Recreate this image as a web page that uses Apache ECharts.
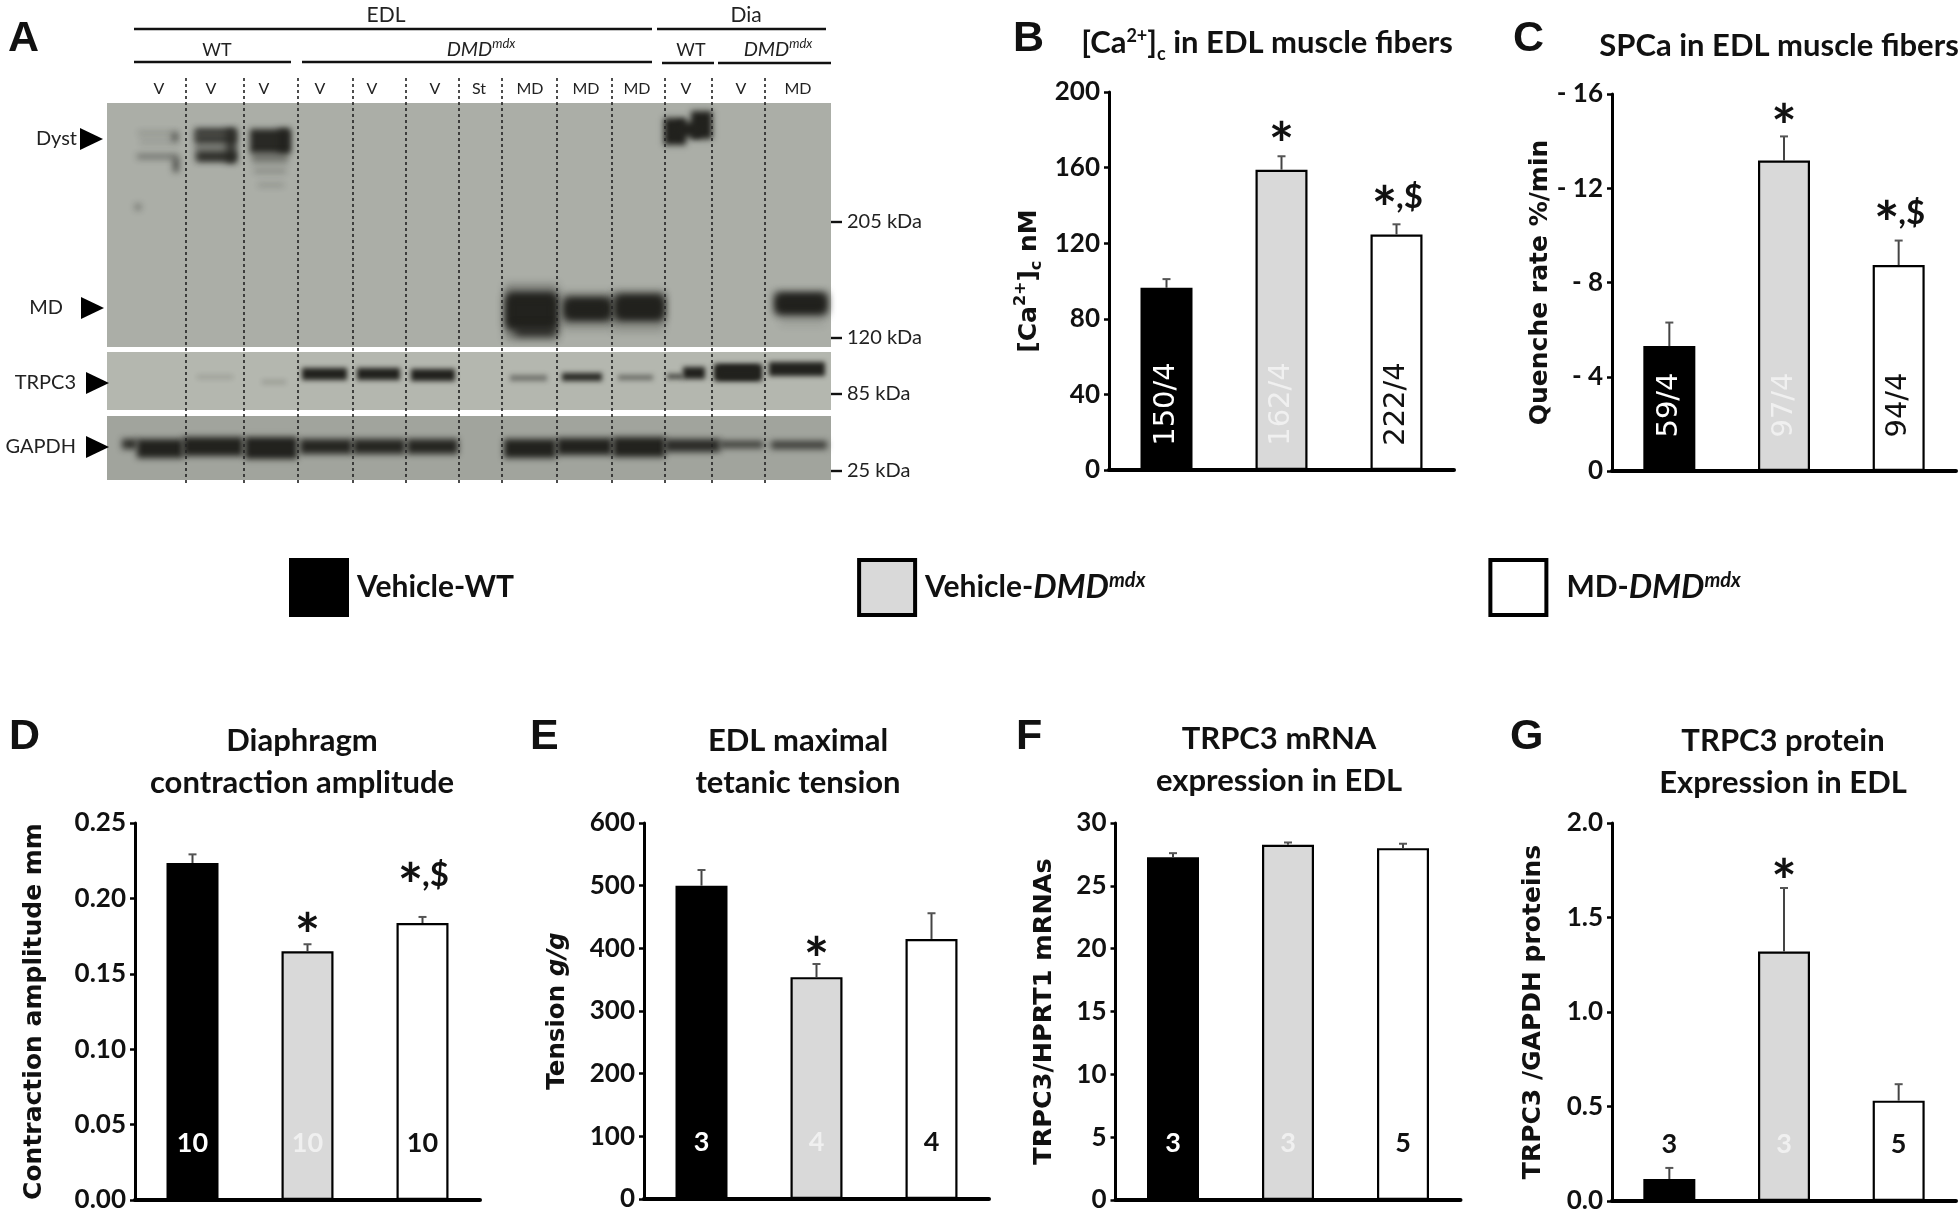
<!DOCTYPE html>
<html><head><meta charset="utf-8">
<style>html,body{margin:0;padding:0;background:#fff}#c{width:1960px;height:1214px}</style>
<script src="https://cdn.jsdelivr.net/npm/echarts@6/dist/echarts.min.js"></script>
</head><body><div id="c"></div>
<script>
// ---------- bar panel data ----------
const groupNames = ['Vehicle-WT', 'Vehicle-DMDmdx', 'MD-DMDmdx'];
const bValues = [96.4, 158.9, 124.6];
const bErrTops = [101, 166, 130];
const bCounts = ['150/4', '162/4', '222/4'];
const bMarks = ['', '*', '*,$'];
const bMarkY = [null, 178, 144];
const cValues = [-5.3, -13.18, -8.74];
const cErrTops = [-6.3, -14.2, -9.78];
const cCounts = ['59/4', '97/4', '94/4'];
const cMarks = ['', '*', '*,$'];
const cMarkY = [null, -15.1, -10.95];
const dValues = [0.2235, 0.165, 0.1837];
const dErrTops = [0.2292, 0.1696, 0.1877];
const dCounts = ['10', '10', '10'];
const dMarks = ['', '*', '*,$'];
const dMarkY = [null, 0.1824, 0.2155];
const eValues = [500, 354, 415];
const eErrTops = [525, 375, 456];
const eCounts = ['3', '4', '4'];
const eMarks = ['', '*', ''];
const eMarkY = [null, 400, null];
const fValues = [27.27, 28.27, 28.0];
const fErrTops = [27.6, 28.45, 28.35];
const fCounts = ['3', '3', '5'];
const gValues = [0.1165, 1.32, 0.531];
const gErrTops = [0.175, 1.656, 0.618];
const gCounts = ['3', '3', '5'];
const gMarks = ['', '*', ''];
const gMarkY = [null, 1.75, null];

// ---------- western blot data (gel units; [from, to, top, bottom, density]) ----------
const blotPanels = [[107, 831, 103, 347, '#abaea7'], [107, 831, 352, 410, '#b4b7af'], [107, 831, 416, 480, '#a1a49d']];
const dystBands = [
  [138, 178, 131, 135, .2], [140, 178, 140, 144, .16], [137, 178, 154, 159, .42],
  [172, 178, 133, 141, .6], [173, 179, 158, 172, .65], [195, 236, 129, 162, .36],
  [195, 236, 129, 135, .85], [195, 236, 136, 142, .9], [197, 236, 152, 161, .9],
  [226, 236, 129, 163, .7], [250, 290, 129, 153, .95], [278, 290, 129, 152, .75],
  [252, 288, 152, 163, .38], [254, 286, 169, 173, .3], [258, 284, 183, 187, .2],
  [135, 141, 204, 210, .4],
  [664, 686, 118, 145, 1], [691, 712, 111, 139, 1], [676, 701, 122, 137, 1]
];
const mdBands = [
  [505, 558, 284, 340, .3], [507, 556, 293, 329, 1], [507, 556, 296, 326, 1], [515, 556, 326, 336, .95],
  [562, 612, 292, 330, .2], [564, 611, 298, 320, 1], [566, 609, 300, 318, 1],
  [613, 664, 290, 332, .2], [615, 664, 295, 320, 1], [617, 662, 297, 318, 1],
  [775, 827, 293, 314, 1], [777, 825, 295, 312, 1], [780, 825, 312, 325, .12]
];
const trpcBands = [
  [197, 233, 375, 379, .15], [262, 286, 380, 384, .18], [302, 347, 368, 380, 1],
  [357, 400, 368, 380, 1], [411, 455, 369, 381, 1], [510, 547, 375, 381, .45],
  [562, 602, 373, 381, .95], [618, 653, 375, 380, .5], [667, 683, 374, 379, .75],
  [683, 705, 367, 379, 1], [714, 762, 364, 381, 1], [718, 758, 366, 379, 1], [769, 825, 362, 376, 1]
];
const gapdhBands = [
  [122, 137, 439, 449, .9], [137, 183, 439, 458, 1], [183, 243, 437, 456, 1],
  [245, 297, 437, 459, 1], [300, 352, 439, 454, .97], [353, 405, 439, 454, .97],
  [407, 458, 439, 454, .97], [504, 556, 439, 458, 1], [557, 612, 438, 455, 1],
  [613, 665, 437, 457, 1], [665, 720, 439, 452, .92], [720, 763, 441, 448, .8],
  [771, 827, 441, 449, .8]
];
const laneDividers = [186, 244, 298, 353, 406, 459, 502, 557, 612, 665, 712, 765];
const laneLabels = ['V', 'V', 'V', 'V', 'V', 'V', 'St', 'MD', 'MD', 'MD', 'V', 'V', 'MD'];
const laneCenters = [159, 211, 264, 320, 372, 435, 479, 530, 586, 637, 686, 741, 798];
const headerRules = [[134, 652, 29], [657, 826, 29], [134, 291, 62], [302, 652, 62], [662, 714, 63], [718, 831, 63]];
const headerLabels = ['EDL', 'Dia', 'WT', '{i|DMD}{s|mdx}', 'WT', '{i|DMD}{s|mdx}'];
const headerCenters = [[386, 15], [746, 15], [217, 50], [481, 50], [691, 50], [778, 50]];
const kDaLabels = ['205 kDa', '120 kDa', '85 kDa', '25 kDa'];
const kDaPositions = [222, 338, 394, 471];
const rowLabels = ['Dyst', 'MD', 'TRPC3', 'GAPDH'];
const rowPositions = [[77, 139, 80], [63, 308, 81], [76, 383, 86], [76, 447, 86]];

// ---------- chart construction ----------
const FONT = 'Lato';
const fills = ['#000000', '#d9d9d9', '#ffffff'];
const countFills = ['#ffffff', '#f0f0f0', '#111111'];
const grids = [], xAxes = [], yAxes = [], series = [], titles = [];

grids.push({left: 0, top: 0, width: 900, height: 490});
xAxes.push({type: 'value', min: 0, max: 900, show: false, gridIndex: 0});
yAxes.push({type: 'value', min: 0, max: 490, inverse: true, show: false, gridIndex: 0});

function addGel(name, data, render) {
  series.push({name, type: 'custom', xAxisIndex: 0, yAxisIndex: 0, silent: true, z: 3,
    data, renderItem: render, encode: {x: 0, y: 1}, tooltip: {show: false}});
}
// Only the blurred shadow of each band is visible: the solid rect itself sits off the canvas.
function bandRender(blur) {
  const away = 3000;
  return (p, api) => {
    const a = api.coord([api.value(0), api.value(2)]), b = api.coord([api.value(1), api.value(3)]);
    return {type: 'rect', shape: {x: a[0] - away, y: a[1], width: b[0] - a[0], height: b[1] - a[1]},
      style: {fill: '#000', shadowBlur: blur, shadowOffsetX: away,
        shadowColor: 'rgba(34,34,30,' + api.value(4) + ')'}};
  };
}
addGel('blots', blotPanels.map(r => r.slice(0, 4)), (p, api) => {
  const a = api.coord([api.value(0), api.value(2)]), b = api.coord([api.value(1), api.value(3)]);
  return {type: 'rect', shape: {x: a[0], y: a[1], width: b[0] - a[0], height: b[1] - a[1]},
    style: {fill: blotPanels[p.dataIndex][4]}};
});
addGel('Dyst bands', dystBands, bandRender(6));
addGel('MD bands', mdBands, bandRender(8));
addGel('TRPC3 bands', trpcBands, bandRender(5));
addGel('GAPDH bands', gapdhBands, bandRender(6));
addGel('lanes', laneDividers.map(x => [x, 78, 483]), (p, api) => {
  const a = api.coord([api.value(0), api.value(1)]), b = api.coord([api.value(0), api.value(2)]);
  return {type: 'line', shape: {x1: a[0], y1: a[1], x2: b[0], y2: b[1]},
    style: {stroke: '#222', lineWidth: 1.6, lineDash: [3, 3]}};
});
addGel('lane labels', laneCenters.map(x => [x, 89]), (p, api) => {
  const a = api.coord([api.value(0), api.value(1)]);
  return {type: 'text', x: a[0], y: a[1], style: {text: laneLabels[p.dataIndex], fill: '#222',
    font: '16px ' + FONT, align: 'center', verticalAlign: 'middle'}};
});
addGel('rules', headerRules, (p, api) => {
  const a = api.coord([api.value(0), api.value(2)]), b = api.coord([api.value(1), api.value(2)]);
  return {type: 'line', shape: {x1: a[0], y1: a[1], x2: b[0], y2: b[1]},
    style: {stroke: '#111', lineWidth: 2.4}};
});
addGel('headers', headerCenters, (p, api) => {
  const a = api.coord([api.value(0), api.value(1)]);
  return {type: 'text', x: a[0], y: a[1], style: {text: headerLabels[p.dataIndex], fill: '#222',
    font: (p.dataIndex < 2 ? 21 : 18) + 'px ' + FONT, align: 'center', verticalAlign: 'middle',
    rich: {i: {fontFamily: FONT, fontStyle: 'italic', fontSize: 20, fill: '#222', height: 22},
           s: {fontFamily: FONT, fontStyle: 'italic', fontSize: 13, fill: '#222', verticalAlign: 'top', height: 10}}}};
});
addGel('kDa', kDaPositions.map(y => [831, y]), (p, api) => {
  const a = api.coord([api.value(0), api.value(1)]);
  return {type: 'group', children: [
    {type: 'line', shape: {x1: a[0], y1: a[1], x2: a[0] + 11, y2: a[1]}, style: {stroke: '#111', lineWidth: 2.4}},
    {type: 'text', x: a[0] + 16, y: a[1], style: {text: kDaLabels[p.dataIndex], fill: '#222',
      font: '20px ' + FONT, align: 'left', verticalAlign: 'middle'}}]};
});
addGel('rows', rowPositions, (p, api) => {
  const a = api.coord([api.value(0), api.value(1)]);
  const t = api.coord([api.value(2), api.value(1)]);
  return {type: 'group', children: [
    {type: 'text', x: a[0], y: a[1], style: {text: rowLabels[p.dataIndex], fill: '#222',
      font: '20px ' + FONT, align: 'right', verticalAlign: 'middle'}},
    {type: 'polygon', shape: {points: [[t[0], t[1] - 11], [t[0] + 23, t[1]], [t[0], t[1] + 11]]}, style: {fill: '#000'}}]};
});

function addPanel(cfg) {
  const gi = grids.length;
  grids.push({left: cfg.left, top: cfg.top, width: cfg.width, height: cfg.height});
  xAxes.push({type: 'category', gridIndex: gi, data: groupNames,
    axisLine: {onZero: true, lineStyle: {color: '#000', width: 4}},
    axisTick: {show: false}, axisLabel: {show: false}});
  yAxes.push({type: 'value', gridIndex: gi, min: cfg.min, max: cfg.max, interval: cfg.interval,
    inverse: !!cfg.inverse, splitLine: {show: false},
    axisLine: {show: true, onZero: false, lineStyle: {color: '#000', width: 3}},
    axisTick: {show: true, length: 5, lineStyle: {color: '#000', width: 2.5}},
    axisLabel: {formatter: cfg.fmt, color: '#111', fontFamily: FONT, fontWeight: 'bold', fontSize: 26, margin: 9},
    name: cfg.yName, nameLocation: 'middle', nameGap: cfg.nameGap, nameRotate: 90,
    nameTextStyle: {color: '#111', fontFamily: 'DejaVu Sans', fontWeight: 'bold', fontSize: cfg.nameSize,
      rich: cfg.nameRich || {}}});
  groupNames.forEach((nm, i) => {
    series.push({name: nm, type: 'bar', xAxisIndex: gi, yAxisIndex: gi, barWidth: 52, barGap: '-100%',
      itemStyle: {color: fills[i], borderColor: '#000', borderWidth: 2.2},
      data: cfg.values.map((v, j) => j === i ? v : null), z: 2});
  });
  series.push({name: cfg.id + ' annotations', type: 'custom', xAxisIndex: gi, yAxisIndex: gi, silent: true, z: 5,
    data: cfg.values.map((v, j) => [j, v, cfg.errs[j]]), encode: {x: 0, y: [1, 2]}, tooltip: {show: false},
    renderItem: (p, api) => {
      const j = p.dataIndex;
      const top = api.coord([j, cfg.values[j]]), e = api.coord([j, cfg.errs[j]]), base = api.coord([j, 0]);
      const kids = [
        {type: 'line', shape: {x1: top[0], y1: top[1], x2: e[0], y2: e[1]}, style: {stroke: '#444', lineWidth: 2}},
        {type: 'line', shape: {x1: e[0] - 4, y1: e[1], x2: e[0] + 4, y2: e[1]}, style: {stroke: '#555', lineWidth: 2}}
      ];
      const fill = (cfg.countFills || countFills)[j];
      if (cfg.rotated) {
        kids.push({type: 'text', x: base[0], y: base[1] - 66, rotation: Math.PI / 2,
          style: {text: cfg.counts[j], fill, font: '29px "DejaVu Sans"', align: 'center', verticalAlign: 'middle'}});
      } else {
        kids.push({type: 'text', x: base[0], y: base[1] - 57,
          style: {text: cfg.counts[j], fill, font: 'bold 27px ' + FONT, align: 'center', verticalAlign: 'middle'}});
      }
      const mk = cfg.marks && cfg.marks[j];
      if (mk) {
        const m = api.coord([j, cfg.markY[j]]);
        const star = t => ({type: 'text', x: m[0] + (mk === '*' ? 0 : -12), y: m[1] + 13,
          style: {text: t, fill: '#111', font: 'bold 60px ' + FONT, align: 'center', verticalAlign: 'middle'}});
        kids.push(star('*'));
        if (mk.length > 1) {
          kids.push({type: 'text', x: m[0] + 13, y: m[1],
            style: {text: mk.slice(1), fill: '#111', font: 'bold 33px ' + FONT, align: 'center', verticalAlign: 'middle'}});
        }
      }
      return {type: 'group', children: kids};
    }});
}
const nameRichOf = size => ({
  t: {fontSize: size, fontFamily: 'DejaVu Sans', fontWeight: 'bold', color: '#111', height: 30},
  s: {fontSize: 16, fontFamily: 'DejaVu Sans', fontWeight: 'bold', color: '#111', verticalAlign: 'top', height: 14},
  c: {fontSize: 16, fontFamily: 'DejaVu Sans', fontWeight: 'bold', color: '#111', verticalAlign: 'bottom', height: 14},
  i: {fontSize: size, fontFamily: 'DejaVu Sans', fontWeight: 'bold', fontStyle: 'italic', color: '#111', height: 30}
});
addPanel({id: 'B', left: 1109, top: 92, width: 345, height: 378, min: 0, max: 200, interval: 40, fmt: v => String(v),
  values: bValues, errs: bErrTops, counts: bCounts, marks: bMarks, markY: bMarkY, rotated: true,
  yName: '{t|[Ca}{s|2+}{t|]}{c|c}{t| nM}', nameGap: 65, nameSize: 25, nameRich: nameRichOf(25)});
addPanel({id: 'C', left: 1612, top: 94, width: 344, height: 377, min: -16, max: 0, interval: 4, inverse: true,
  fmt: v => v === 0 ? '0' : '- ' + Math.abs(v),
  values: cValues, errs: cErrTops, counts: cCounts, marks: cMarks, markY: cMarkY, rotated: true,
  yName: 'Quenche rate %/min', nameGap: 51, nameSize: 25});
addPanel({id: 'D', left: 135, top: 823, width: 345, height: 377, min: 0, max: 0.25, interval: 0.05, fmt: v => v.toFixed(2),
  values: dValues, errs: dErrTops, counts: dCounts, marks: dMarks, markY: dMarkY,
  yName: 'Contraction amplitude mm', nameGap: 88, nameSize: 25});
addPanel({id: 'E', left: 644, top: 823, width: 345, height: 376, min: 0, max: 600, interval: 100, fmt: v => String(v),
  values: eValues, errs: eErrTops, counts: eCounts, marks: eMarks, markY: eMarkY,
  yName: '{t|Tension }{i|g/g}', nameGap: 71, nameSize: 24.5, nameRich: nameRichOf(24.5)});
addPanel({id: 'F', left: 1115.5, top: 823, width: 345, height: 377, min: 0, max: 30, interval: 5, fmt: v => String(v),
  values: fValues, errs: fErrTops, counts: fCounts,
  yName: 'TRPC3/HPRT1 mRNAs', nameGap: 58, nameSize: 25.5});
addPanel({id: 'G', left: 1612, top: 823, width: 344, height: 378, min: 0, max: 2, interval: 0.5, fmt: v => v.toFixed(1),
  values: gValues, errs: gErrTops, counts: gCounts, marks: gMarks, markY: gMarkY,
  countFills: ['#111111', '#f0f0f0', '#111111'],
  yName: 'TRPC3 /GAPDH proteins', nameGap: 66, nameSize: 25});

const panelLetters = ['A', 'B', 'C', 'D', 'E', 'F', 'G'];
const letterPositions = [[8, 18], [1013, 18], [1513, 18], [9, 716], [530, 716], [1016, 716], [1510, 716]];
panelLetters.forEach((t, i) => titles.push({text: t, left: letterPositions[i][0], top: letterPositions[i][1],
  padding: 0, textStyle: {fontFamily: 'Liberation Sans', fontWeight: 'bold', fontSize: 43, color: '#111'}}));
const titleRich = {
  t: {fontFamily: FONT, fontWeight: 'bold', fontSize: 31, color: '#111', height: 42},
  s: {fontFamily: FONT, fontWeight: 'bold', fontSize: 18, color: '#111', verticalAlign: 'top', height: 28},
  c: {fontFamily: FONT, fontWeight: 'bold', fontSize: 18, color: '#111', verticalAlign: 'bottom', height: 20}};
const panelTitles = ['{t|[Ca}{s|2+}{t|]}{c|c}{t| in EDL muscle fibers}', 'SPCa in EDL muscle fibers',
  'Diaphragm\ncontraction amplitude', 'EDL maximal\ntetanic tension',
  'TRPC3 mRNA\nexpression in EDL', 'TRPC3 protein\nExpression in EDL'];
const titleCenters = [[1267, 22], [1779, 25], [302, 720], [798, 720], [1279, 718], [1783, 720]];
panelTitles.forEach((t, i) => titles.push({text: t, left: titleCenters[i][0], top: titleCenters[i][1], textAlign: 'center', padding: 0,
  textStyle: {fontFamily: FONT, fontWeight: 'bold', fontSize: 31, color: '#111', lineHeight: 42, rich: titleRich}}));

const legendText = {'Vehicle-WT': '{n|Vehicle-WT}', 'Vehicle-DMDmdx': '{n|Vehicle-}{i|DMD}{s|mdx}', 'MD-DMDmdx': '{n|MD-}{i|DMD}{s|mdx}'};
const legendStyle = {fontFamily: FONT, fontWeight: 'bold', color: '#111'};
const legendPads = [[0, 0, 0, 5], [0, 2, 0, 5], [0, 0, 0, 15]];
const option = {
  animation: false, backgroundColor: '#ffffff', title: titles, grid: grids, xAxis: xAxes, yAxis: yAxes, series,
  legend: {left: 289, top: 558, padding: 0, orient: 'horizontal', itemWidth: 56, itemHeight: 55, itemGap: 343, icon: 'rect',
    selectedMode: false,
    data: groupNames.map((n, i) => ({name: n, itemStyle: {borderColor: '#000', borderWidth: 4},
      textStyle: {padding: legendPads[i]}})),
    formatter: n => legendText[n],
    textStyle: {padding: [0, 0, 0, 5], rich: {
      n: {...legendStyle, fontSize: 30, height: 34},
      i: {...legendStyle, fontSize: 33, fontStyle: 'italic', height: 34},
      s: {...legendStyle, fontSize: 20, fontStyle: 'italic', verticalAlign: 'top', height: 20}}}}
};
const chart = echarts.init(document.getElementById('c'), null, {renderer: 'canvas', width: 1960, height: 1214});
chart.setOption(option);
</script></body></html>
